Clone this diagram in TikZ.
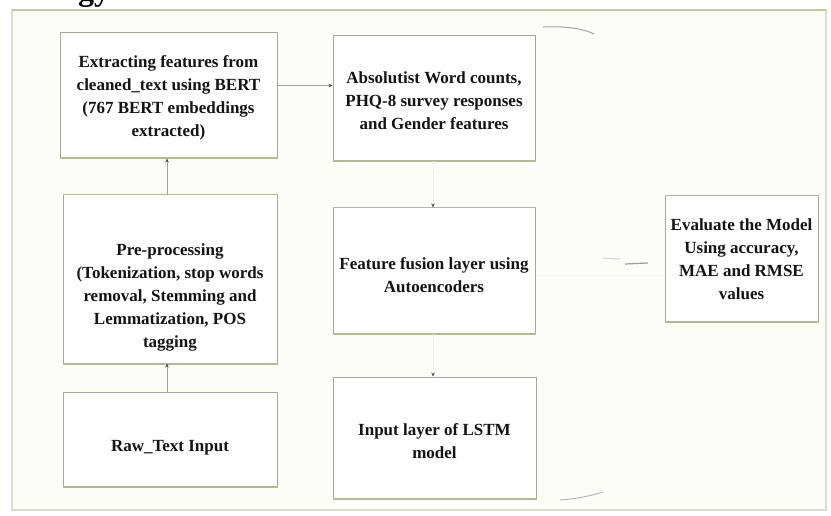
\documentclass[tikz,border=0pt]{standalone}
\usepackage{fontspec}
\setmainfont{Liberation Serif}
\usetikzlibrary{arrows.meta,calc}
\definecolor{framecream}{HTML}{FDFDF7}
\definecolor{frametop}{HTML}{C2CB9C}
\definecolor{frameside}{HTML}{DADCD2}
\definecolor{boxline}{HTML}{A4A999}
\definecolor{boxolive}{HTML}{B2BA92}
\definecolor{arrowgray}{HTML}{A0A0A0}
\definecolor{tipdark}{HTML}{505050}
\definecolor{smudge}{HTML}{6F7F99}
\tikzset{
  boxnode/.style={draw=boxline, line width=1pt, fill=white, inner sep=0pt},
  labnode/.style={font=\bfseries\fontsize{17}{23}\selectfont, align=center, text=black!92, inner sep=0pt},
  headnode/.style={font=\bfseries\fontsize{32}{36}\selectfont, inner sep=0pt, text=black},
  conn/.style={draw=arrowgray, line width=0.6pt, -{Stealth[length=4pt,width=3.6pt,color=tipdark]}},
  faintconn/.style={draw=black!6, line width=0.6pt, -{Stealth[length=4pt,width=3.6pt,color=tipdark]}},
  faintline/.style={draw=black!4, line width=0.6pt},
  olive/.style={draw=boxolive, line width=2pt}
}
\begin{document}
\begin{tikzpicture}[x=1pt,y=-1pt]
\useasboundingbox (0,0) rectangle (831,516);
\fill[white] (0,0) rectangle (831,516);
% cut-off heading (only its descenders show)
\node[headnode, anchor=base west] (head) at (78,1) {gy};
% frame
\draw[draw=frameside, fill=framecream, line width=1.2pt] (12,10) rectangle (826,510);
\draw[frametop, line width=1.6pt] (12,10) -- (826,10);
% boxes
\node[boxnode, minimum width=217pt, minimum height=125pt] (A) at (168.5,95.5) {};
\node[boxnode, minimum width=202pt, minimum height=125pt] (B) at (434,98.5) {};
\node[boxnode, minimum width=214pt, minimum height=168pt] (C) at (170,279) {};
\node[boxnode, minimum width=202pt, minimum height=125pt] (D) at (434,270.5) {};
\node[boxnode, minimum width=153pt, minimum height=125pt] (E) at (741.5,258.5) {};
\node[boxnode, minimum width=214pt, minimum height=94pt] (F) at (170,439) {};
\node[boxnode, minimum width=203pt, minimum height=121pt] (G) at (434.5,437.5) {};
\foreach \n in {A,B,C,D,E,F,G}{
  \draw[olive] (\n.south west) -- (\n.south east);
}
\foreach \n in {C,D,E}{
  \draw[olive, line width=1.5pt] (\n.north west) -- (\n.north east);
}
% labels
\node[labnode] (tA) at (168.5,98) {Extracting features from\\cleaned\_text using BERT\\(767 BERT embeddings\\extracted)};
\node[labnode] (tB) at (434,101) {Absolutist Word counts,\\PHQ-8 survey responses\\and Gender features};
\node[labnode] (tC) at (170,297) {Pre-processing\\(Tokenization, stop words\\removal, Stemming and\\Lemmatization, POS\\tagging};
\node[labnode] (tD) at (434,275) {Feature fusion layer using\\Autoencoders};
\node[labnode] (tE) at (741.5,259) {Evaluate the Model\\Using accuracy,\\MAE and RMSE\\values};
\node[labnode] (tF) at (170,448) {Raw\_Text Input};
\node[labnode] (tG) at (434.5,441.5) {Input layer of LSTM\\model};
% connectors
\draw[conn] (F.north -| 167,0) -- (C.south -| 167,0);
\draw[conn] (C.north -| 167,0) -- (A.south -| 167,0);
\draw[conn] ([yshift=10pt]A.east) -- ([yshift=10pt]A.east -| B.west);
\draw[faintconn] (B.south -| 433,0) -- (D.north -| 433,0);
\draw[faintconn] (D.south -| 433,0) -- (G.north -| 433,0);
\draw[faintline] ([yshift=-5pt]D.east) -- ([yshift=-5pt]D.east -| E.west);
% faded marks of the scan
\draw[smudge!35, line width=1pt] (603,258) -- (620,259);
\draw[smudge!75, line width=1.2pt] (625,264) -- (648,263);
\draw[smudge!70, line width=1pt, line cap=round] (543,27) .. controls (563,26) and (582,28) .. (594,34);
\draw[smudge!55, line width=1pt, line cap=round] (560,500) .. controls (575,499) and (590,496) .. (603,492);
\end{tikzpicture}
\end{document}
